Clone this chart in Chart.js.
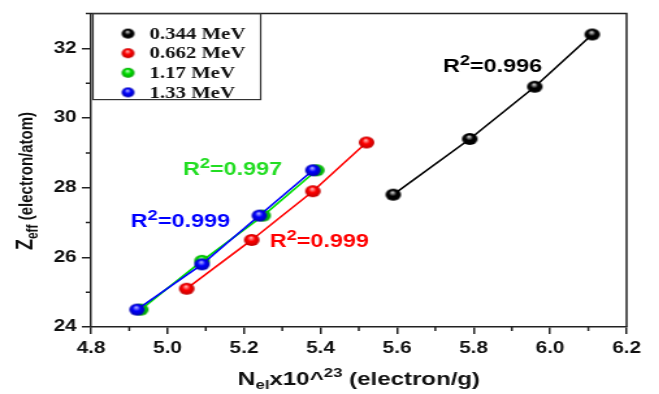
<!DOCTYPE html>
<html>
<head>
<meta charset="utf-8">
<title>Zeff vs Nel</title>
<script src="https://cdn.jsdelivr.net/npm/chart.js@4.4.0/dist/chart.umd.min.js"></script>
<style>
  html, body { margin: 0; padding: 0; background: #fff; overflow: hidden; }
  /* the figure is drawn narrow and widened, like the original plot export */
  #wrap { width: 507px; height: 394px; transform: scale(1.3, 1); transform-origin: 0 0; }
</style>
</head>
<body>
<div id="wrap"><canvas id="chart" width="507" height="394"></canvas></div>
<script>
// photon energies
var energies = ["0.344 MeV", "0.662 MeV", "1.17 MeV", "1.33 MeV"];

// electron density Nel (x10^23 electron/g) and effective atomic number
var nel344 = [5.59, 5.79, 5.96, 6.11];
var zeff344 = [27.8, 29.4, 30.9, 32.4];
var nel662 = [5.05, 5.22, 5.38, 5.52];
var zeff662 = [25.1, 26.5, 27.9, 29.3];
var nel117 = [4.93, 5.09, 5.25, 5.39];
var zeff117 = [24.5, 25.9, 27.2, 28.5];
var nel133 = [4.92, 5.09, 5.24, 5.38];
var zeff133 = [24.5, 25.8, 27.2, 28.5];

// goodness of fit for each energy
var r2 = ["0.996", "0.999", "0.997", "0.999"];

var xTicks = [4.8, 5.0, 5.2, 5.4, 5.6, 5.8, 6.0, 6.2];
var yTicks = [24, 26, 28, 30, 32];

var colors = ["#000000", "#ff0000", "#00e000", "#0000ff"];
var lights = ["#d8d8d8", "#ffb8b8", "#c8ffc8", "#b8b8ff"];
var darks = ["#000000", "#c00000", "#00a000", "#0000b0"];

// where each R^2 label sits, in data units (left edge, vertical middle)
var r2Pos = [[5.72, 31.52], [5.267, 26.48], [5.04, 28.56], [4.904, 27.07]];

function sphere(i, r) {
  var c = document.createElement('canvas');
  c.width = c.height = r * 2 + 2;
  var g = c.getContext('2d');
  var cx = r + 1, cy = r + 1;
  var grad = g.createRadialGradient(cx - r * 0.1, cy - r * 0.4, r * 0.05, cx, cy, r);
  grad.addColorStop(0, lights[i]);
  grad.addColorStop(0.45, colors[i]);
  grad.addColorStop(1, darks[i]);
  g.fillStyle = grad;
  g.beginPath();
  g.arc(cx, cy, r, 0, Math.PI * 2);
  g.fill();
  return c;
}

function pts(xs, ys) {
  return xs.map(function (x, k) { return { x: x, y: ys[k] }; });
}

var series = [pts(nel344, zeff344), pts(nel662, zeff662), pts(nel117, zeff117), pts(nel133, zeff133)];

var datasets = series.map(function (d, i) {
  return {
    label: energies[i],
    data: d,
    order: 3 - i, // later energies drawn on top
    showLine: true,
    borderColor: colors[i],
    borderWidth: 1.6,
    pointStyle: sphere(i, 6),
    pointRadius: 6,
    pointHoverRadius: 6
  };
});

// text with sub/superscripts: parts = [[text, size, dy], ...]
function richText(ctx, parts, x, y, align) {
  var w = 0;
  parts.forEach(function (p) { ctx.font = 'bold ' + p[1] + 'px "Liberation Sans", Arial'; w += ctx.measureText(p[0]).width; });
  var cx = align === 'center' ? x - w / 2 : x;
  parts.forEach(function (p) {
    ctx.font = 'bold ' + p[1] + 'px "Liberation Sans", Arial';
    ctx.fillText(p[0], cx, y + p[2]);
    cx += ctx.measureText(p[0]).width;
  });
}

var decorations = {
  id: 'decorations',
  afterDraw: function (chart) {
    var ctx = chart.ctx, a = chart.chartArea, xs = chart.scales.x, ys = chart.scales.y;
    ctx.save();
    ctx.strokeStyle = '#222';
    ctx.lineWidth = 1.5;
    ctx.beginPath();
    ctx.moveTo(a.left, a.top); ctx.lineTo(a.right, a.top); ctx.lineTo(a.right, a.bottom);
    ctx.stroke();

    // minor ticks
    ctx.beginPath();
    for (var k = 0; k < xTicks.length - 1; k++) {
      var px = xs.getPixelForValue((xTicks[k] + xTicks[k + 1]) / 2);
      ctx.moveTo(px, a.bottom); ctx.lineTo(px, a.bottom + 4);
    }
    for (var m = 0; m < yTicks.length; m++) {
      var py = ys.getPixelForValue(yTicks[m] + 1);
      ctx.moveTo(a.left, py); ctx.lineTo(a.left - 4, py);
    }
    ctx.stroke();

    // legend box
    ctx.lineWidth = 1.2;
    ctx.strokeStyle = '#333';
    ctx.strokeRect(a.left + 1.5, a.top, 129, 86);
    ctx.textBaseline = 'middle';
    ctx.textAlign = 'left';
    ctx.fillStyle = '#111';
    ctx.font = 'bold 16px "Liberation Serif", "Times New Roman", serif';
    chart.data.datasets.forEach(function (ds, i) {
      var ry = a.top + 20 + i * 19.6;
      ctx.drawImage(sphere(i, 5), a.left + 28.5 - 6, ry - 6);
      ctx.fillText(ds.label, a.left + 45, ry + 1);
    });

    // R^2 labels
    ctx.textBaseline = 'alphabetic';
    r2.forEach(function (v, i) {
      ctx.fillStyle = colors[i] === '#00e000' ? '#22dd22' : colors[i];
      var lx = xs.getPixelForValue(r2Pos[i][0]);
      var ly = ys.getPixelForValue(r2Pos[i][1]) + 6.5;
      richText(ctx, [['R', 18, 0], ['2', 14, -7], ['=' + v, 18, 0]], lx, ly, 'left');
    });

    // axis titles
    ctx.fillStyle = '#111';
    richText(ctx, [['N', 19, 0], ['el', 13, 4], ['x10^', 18.5, 0], ['23', 13, -8], [' (electron/g)', 18.5, 0]],
      (a.left + a.right) / 2, 385, 'center');
    ctx.translate(25, 181);
    ctx.rotate(-Math.PI / 2);
    richText(ctx, [['Z', 18, 0], ['eff', 12, 4], [' (electron/atom)', 15, 0]], 0, 0, 'center');
    ctx.restore();
  }
};

new Chart(document.getElementById('chart'), {
  type: 'scatter',
  data: { datasets: datasets },
  options: {
    responsive: false,
    animation: false,
    layout: { padding: { top: 8, right: 25, left: 0, bottom: 0 } },
    plugins: { legend: { display: false }, tooltip: { enabled: false } },
    scales: {
      x: {
        type: 'linear', min: 4.8, max: 6.2,
        afterFit: function (s) { s.height = 67; },
        afterBuildTicks: function (s) { s.ticks = xTicks.map(function (v) { return { value: v }; }); },
        border: { display: true, color: '#222', width: 1.5 },
        grid: { drawOnChartArea: false, drawTicks: true, tickLength: 7, color: '#222', lineWidth: 1.5 },
        ticks: {
          padding: 5, color: '#111',
          font: { family: '"Liberation Sans", Arial', size: 16, weight: 'bold' },
          callback: function (v) { return v.toFixed(1); }
        }
      },
      y: {
        type: 'linear', min: 24, max: 33,
        afterFit: function (s) { s.width = 70; },
        afterBuildTicks: function (s) { s.ticks = yTicks.map(function (v) { return { value: v }; }); },
        border: { display: true, color: '#222', width: 1.5 },
        grid: { drawOnChartArea: false, drawTicks: true, tickLength: 7, color: '#222', lineWidth: 1.5 },
        ticks: {
          padding: 4, color: '#111',
          font: { family: '"Liberation Sans", Arial', size: 16, weight: 'bold' }
        }
      }
    }
  },
  plugins: [decorations]
});
</script>
</body>
</html>
